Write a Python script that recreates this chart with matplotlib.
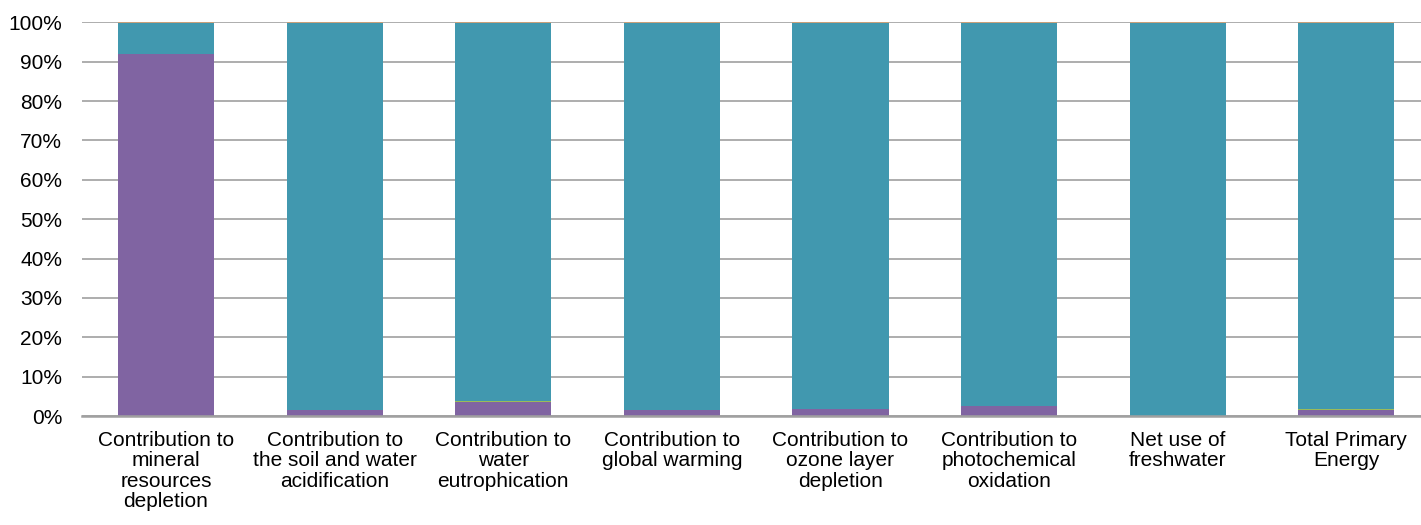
import numpy as np
import matplotlib.pyplot as plt
from matplotlib.ticker import PercentFormatter

plt.rcParams['font.family'] = ['Liberation Sans', 'DejaVu Sans']

categories = ["Contribution to\nmineral\nresources\ndepletion",
              "Contribution to\nthe soil and water\nacidification",
              "Contribution to\nwater\neutrophication",
              "Contribution to\nglobal warming",
              "Contribution to\nozone layer\ndepletion",
              "Contribution to\nphotochemical\noxidation",
              "Net use of\nfreshwater",
              "Total Primary\nEnergy"]

purple = np.array([92.0, 1.5, 3.5, 1.5, 1.7, 2.5, 0.05, 1.6])
green = np.array([0.05, 0.15, 0.3, 0.15, 0.1, 0.15, 0.0, 0.1])
orange = np.array([0.1, 0.2, 0.2, 0.15, 0.15, 0.2, 0.05, 0.15])
teal = 100 - purple - green - orange

fig = plt.figure(figsize=(14.21, 5.25), dpi=100)
ax = fig.add_axes([0.0575, 0.2076, 0.9493, 0.7499])

x = np.arange(len(categories))
w = 0.57
ax.bar(x, purple, w, color="#8064A2", zorder=2)
ax.bar(x, green, w, bottom=purple, color="#9BBB59", zorder=2)
ax.bar(x, teal, w, bottom=purple + green, color="#4198AF", zorder=2)
ax.bar(x, orange, w, bottom=purple + green + teal, color="#C8A07A", zorder=2)

ax.set_xlim(-0.5, len(categories) - 0.5)
ax.set_ylim(0, 100)
ax.set_yticks(np.arange(0, 101, 10))
ax.yaxis.set_major_formatter(PercentFormatter(decimals=0))
ax.set_xticks(x)
ax.set_xticklabels(categories, fontsize=15, linespacing=1.08)
ax.tick_params(axis='y', labelsize=15, length=0, pad=14)
ax.tick_params(axis='x', length=0, pad=11)
ax.grid(axis='y', color="#a0a0a0", linewidth=1.2, zorder=0)
for s in ["top", "right", "left"]:
    ax.spines[s].set_visible(False)
ax.spines["bottom"].set_color("#a0a0a0")
ax.spines["bottom"].set_linewidth(1.8)
ax.spines["bottom"].set_zorder(3)

fig.savefig("out.png", dpi=100)
